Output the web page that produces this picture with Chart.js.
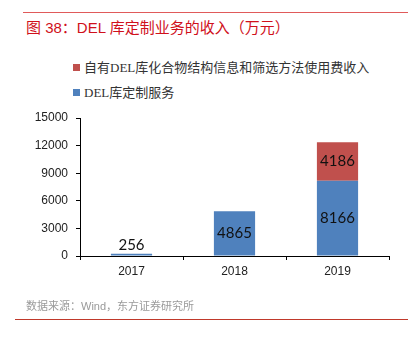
<!DOCTYPE html>
<html>
<head>
<meta charset="utf-8">
<script src="https://cdn.jsdelivr.net/npm/chart.js@4"></script>
<style>
  body { margin: 0; background: #fff; }
  #wrap { position: relative; width: 408px; height: 340px; overflow: hidden; }
  #chart { position: absolute; left: 0; top: 0; }
  .topline { position: absolute; left: 23px; right: 0; top: 12px; border-top: 1px solid #e05a5a; }
  .title { position: absolute; left: 26px; top: 16px; font: 15px "Liberation Sans", "Noto Sans CJK SC", sans-serif; color: #d0101b; white-space: nowrap; }
  .legend { position: absolute; left: 73px; font: 13px "Liberation Serif", "Noto Sans CJK SC", serif; color: #333; white-space: nowrap; }
  .legend i { display: inline-block; width: 7px; height: 7px; margin-right: 4px; vertical-align: 1px; }
  .source { position: absolute; left: 26px; top: 297px; font: 11px "Liberation Sans", "Noto Sans CJK SC", sans-serif; color: #9a9a9a; white-space: nowrap; }
  .botline { position: absolute; left: 15px; right: 0; top: 319px; border-top: 1px solid #c0392b; }
</style>
</head>
<body>
<div id="wrap">
  <div class="topline"></div>
  <div class="title">图 38：DEL 库定制业务的收入（万元）</div>
  <div id="legend"></div>
  <canvas id="chart" width="408" height="340"></canvas>
  <div class="source">数据来源：Wind，东方证券研究所</div>
  <div class="botline"></div>
</div>
<script>
const years = ["2017", "2018", "2019"];
const customService = [256, 4865, 8166];
const licenseFees = [null, null, 4186];
const seriesNames = ["DEL库定制服务", "自有DEL库化合物结构信息和筛选方法使用费收入"];
const seriesColors = ["#4f81bd", "#c0504d"];
const yTicks = [0, 3000, 6000, 9000, 12000, 15000];

// legend rows, top entry is the stacked (red) series
const legendRows = [
  { name: seriesNames[1], color: seriesColors[1], top: 57 },
  { name: seriesNames[0], color: seriesColors[0], top: 82 }
];
const legendBox = document.getElementById('legend');
legendRows.forEach(row => {
  const div = document.createElement('div');
  div.className = 'legend';
  div.style.top = row.top + 'px';
  div.innerHTML = '<i style="background:' + row.color + '"></i>' + row.name;
  legendBox.appendChild(div);
});

// value labels: inside the bar, or above it when the bar is too short
const valueLabels = {
  id: 'valueLabels',
  afterDatasetsDraw(chart) {
    const ctx = chart.ctx;
    ctx.save();
    ctx.font = '15px Lato, "Open Sans", sans-serif';
    ctx.fillStyle = '#111';
    ctx.textAlign = 'center';
    chart.data.datasets.forEach((ds, di) => {
      chart.getDatasetMeta(di).data.forEach((bar, i) => {
        const v = ds.data[i];
        if (v == null) return;
        const h = bar.base - bar.y;
        if (h < 20) {
          ctx.textBaseline = 'bottom';
          ctx.fillText(String(v), bar.x, bar.y - 1);
        } else {
          ctx.textBaseline = 'middle';
          ctx.fillText(String(v), bar.x, (bar.y + bar.base) / 2);
        }
      });
    });
    ctx.restore();
  }
};

new Chart(document.getElementById('chart'), {
  type: 'bar',
  data: {
    labels: years,
    datasets: [
      { label: seriesNames[0], data: customService, backgroundColor: seriesColors[0], categoryPercentage: 1, barPercentage: 0.4 },
      { label: seriesNames[1], data: licenseFees, backgroundColor: seriesColors[1], categoryPercentage: 1, barPercentage: 0.4 }
    ]
  },
  options: {
    responsive: false,
    animation: false,
    layout: { padding: { left: 0, right: 19, top: 118, bottom: 0 } },
    plugins: { legend: { display: false }, tooltip: { enabled: false } },
    scales: {
      x: {
        stacked: true,
        afterFit: s => { s.height = 84; },
        border: { color: '#000', width: 1 },
        grid: { drawOnChartArea: false, offset: true, tickLength: 4, color: '#000' },
        ticks: { color: '#222', padding: 4, font: { family: '"Liberation Sans", Arial', size: 12 } }
      },
      y: {
        stacked: true,
        min: 0,
        max: 15000,
        afterFit: s => { s.width = 80; },
        afterBuildTicks: s => { s.ticks = yTicks.map(v => ({ value: v })); },
        border: { color: '#000', width: 1 },
        grid: { drawOnChartArea: false, tickLength: 4, color: '#000' },
        ticks: { color: '#222', padding: 8, callback: v => String(v), font: { family: '"Liberation Sans", Arial', size: 12 } }
      }
    }
  },
  plugins: [valueLabels]
});
</script>
</body>
</html>
